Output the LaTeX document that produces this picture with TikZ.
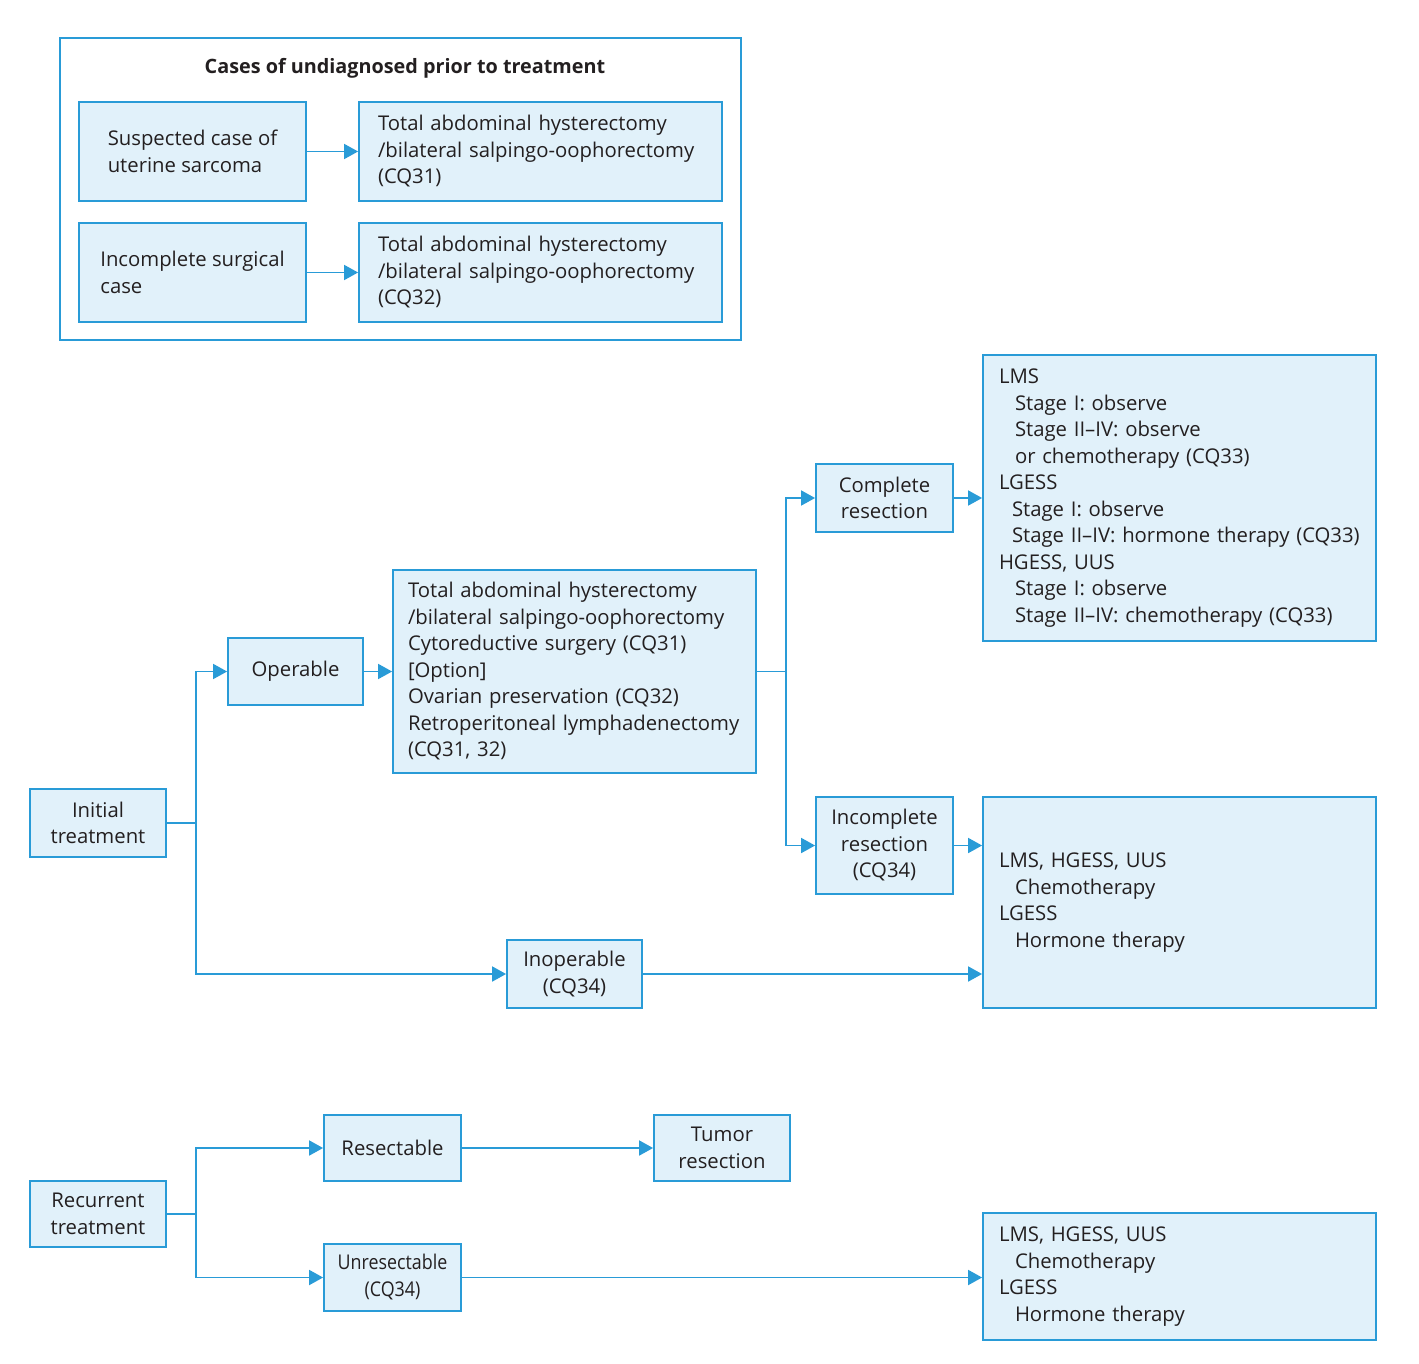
\documentclass[tikz,border=0pt]{standalone}
\usepackage{fontspec}
\setmainfont{Open Sans}
\usetikzlibrary{arrows.meta,calc}
\definecolor{lineblue}{RGB}{41,155,215}
\definecolor{fillblue}{RGB}{225,241,250}
\definecolor{txt}{RGB}{35,31,32}
\begin{document}
\begin{tikzpicture}[x=1pt,y=-1pt,
  every node/.style={text=txt,font=\fontsize{20.3}{26.5}\selectfont},
  box/.style={draw=lineblue,fill=fillblue,line width=1.8pt,inner sep=0pt,align=center},
  lbox/.style={box,align=left,inner xsep=#1,inner ysep=0pt},
  frame/.style={draw=lineblue,line width=1.8pt,inner sep=0pt},
  arr/.style={draw=lineblue,line width=1.8pt,-{Triangle[length=14pt,width=15pt]}},
  conn/.style={draw=lineblue,line width=1.8pt}]
\useasboundingbox (0,0) rectangle (1419,1364);
% top frame
\node[frame,minimum width=681pt,minimum height=302pt] (top) at (400.5,189) {};
\node[font=\fontsize{19.8}{26.5}\selectfont\bfseries] (title) at (405,68) {Cases of undiagnosed prior to treatment};
\node[box,align=left,minimum width=227pt,minimum height=99pt] (a1) at (192.5,151.5) {Suspected case of\\uterine sarcoma};
\node[lbox=19pt,text width=325pt,minimum height=99pt] (a2) at (540.5,151.5) {Total abdominal hysterectomy\\/bilateral salpingo-oophorectomy\\(CQ31)};
\node[box,align=left,minimum width=227pt,minimum height=99pt] (b1) at (192.5,272.5) {Incomplete surgical\\case};
\node[lbox=19pt,text width=325pt,minimum height=99pt] (b2) at (540.5,272.5) {Total abdominal hysterectomy\\/bilateral salpingo-oophorectomy\\(CQ32)};
\draw[arr] (a1) -- (a2);
\draw[arr] (b1) -- (b2);
% initial treatment
\node[box,minimum width=136pt,minimum height=68pt] (init) at (98,823) {Initial\\treatment};
\node[box,minimum width=135pt,minimum height=67pt] (oper) at (295.5,671.5) {Operable};
\node[lbox=15pt,text width=333pt,minimum height=203pt] (surg) at (574.5,671.5) {Total abdominal hysterectomy\\/bilateral salpingo-oophorectomy\\Cytoreductive surgery (CQ31)\\{[Option]}\\Ovarian preservation (CQ32)\\Retroperitoneal lymphadenectomy\\(CQ31, 32)};
\node[box,minimum width=137pt,minimum height=68pt] (comp) at (884.5,498) {Complete\\resection};
\node[lbox=16pt,text width=361pt,minimum height=286pt] (lms) at (1179.5,498) {LMS\\\hspace*{16pt}Stage I: observe\\\hspace*{16pt}Stage II–IV: observe\\\hspace*{16pt}or chemotherapy (CQ33)\\LGESS\\\hspace*{13pt}Stage I: observe\\\hspace*{13pt}Stage II–IV: hormone therapy (CQ33)\\HGESS, UUS\\\hspace*{16pt}Stage I: observe\\\hspace*{16pt}Stage II–IV: chemotherapy (CQ33)};
\node[box,minimum width=137pt,minimum height=97pt] (incomp) at (884.5,845.5) {Incomplete\\resection\\(CQ34)};
\node[lbox=16pt,text width=361pt,minimum height=211pt] (chemo1) at (1179.5,902.5) {LMS, HGESS, UUS\\\hspace*{16pt}Chemotherapy\\LGESS\\\hspace*{16pt}Hormone therapy};
\node[box,minimum width=135pt,minimum height=68pt] (inop) at (574.5,974) {Inoperable\\(CQ34)};
\coordinate (j1) at (196,823);
\coordinate (j2) at (786,671.5);
\draw[conn] (init) -- (j1);
\draw[arr] (j1) |- (oper);
\draw[arr] (j1) |- (inop);
\draw[arr] (oper) -- (surg);
\draw[conn] (surg) -- (j2);
\draw[arr] (j2) |- (comp);
\draw[arr] (j2) |- (incomp);
\draw[arr] (comp) -- (comp -| lms.west);
\draw[arr] (incomp) -- (incomp -| chemo1.west);
\draw[arr] (inop) -- (inop -| chemo1.west);
% recurrent
\node[box,minimum width=136pt,minimum height=66pt] (rec) at (98,1214) {Recurrent\\treatment};
\node[box,minimum width=137pt,minimum height=66pt] (resec) at (392.5,1148) {Resectable};
\node[box,minimum width=136pt,minimum height=66pt] (tumor) at (722,1148) {Tumor\\resection};
\node[box,minimum width=137pt,minimum height=67pt] (unres) at (392.5,1277.5) {\scalebox{0.88}[1]{\begin{tabular}{@{}c@{}}Unresectable\\(CQ34)\end{tabular}}};
\node[lbox=16pt,text width=361pt,minimum height=127pt] (chemo2) at (1179.5,1276.5) {LMS, HGESS, UUS\\\hspace*{16pt}Chemotherapy\\LGESS\\\hspace*{16pt}Hormone therapy};
\coordinate (j3) at (196,1214);
\draw[conn] (rec) -- (j3);
\draw[arr] (j3) |- (resec);
\draw[arr] (j3) |- (unres);
\draw[arr] (resec) -- (tumor);
\draw[arr] (unres) -- (unres -| chemo2.west);
\end{tikzpicture}
\end{document}
